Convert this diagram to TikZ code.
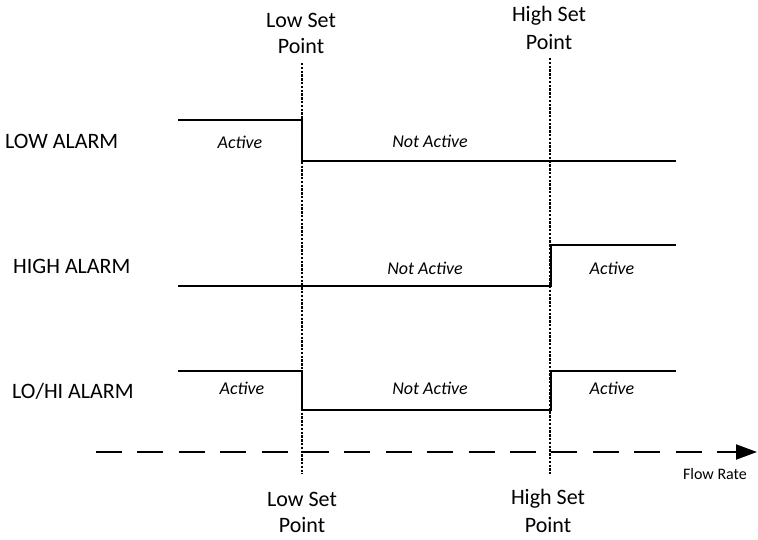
\documentclass[tikz,border=0pt]{standalone}
\usepackage{fontspec}
\setmainfont{Carlito}
\usetikzlibrary{arrows.meta}
\begin{document}
\begin{tikzpicture}[x=1pt,y=-1pt,
  lbl/.style={font=\fontsize{22}{26}\selectfont, inner sep=0pt},
  rowlbl/.style={font=\fontsize{22}{26}\selectfont, inner sep=0pt, anchor=west},
  state/.style={font=\fontsize{18}{22}\selectfont\itshape, inner sep=0pt},
  wave/.style={line width=2pt, line join=miter},
  setline/.style={line width=1.6pt, dash pattern=on 2.4pt off 1.4pt},
  axis/.style={line width=2pt, dash pattern=on 26pt off 15.4pt, -{Triangle[length=21pt,width=15pt]}}]
\useasboundingbox (0,0) rectangle (758,539);
% set point labels
\node[lbl] (lowT1) at (301,20) {Low Set};
\node[lbl] (lowT2) at (301,46) {Point};
\node[lbl] (highT1) at (549,16) {High Set};
\node[lbl] (highT2) at (549,42) {Point};
\node[lbl] (lowB1) at (302,499) {Low Set};
\node[lbl] (lowB2) at (302,525) {Point};
\node[lbl] (highB1) at (548,499) {High Set};
\node[lbl] (highB2) at (548,525) {Point};
% set point lines
\coordinate (lowtop) at (302,63);
\coordinate (lowbot) at (302,474);
\coordinate (hightop) at (550,58);
\coordinate (highbot) at (550,474);
\draw[setline] (lowtop) -- (lowbot);
\draw[setline] (hightop) -- (highbot);
% row labels
\node[rowlbl] (rLow) at (5,141) {LOW ALARM};
\node[rowlbl] (rHigh) at (13,266) {HIGH ALARM};
\node[rowlbl] (rLoHi) at (12,391) {LO/HI ALARM};
% LOW ALARM wave
\coordinate (a0) at (178,120);
\coordinate (a1) at (302,120);
\coordinate (a2) at (302,161);
\coordinate (a3) at (676,161);
\draw[wave] (a0) -- (a1) -- (a2) -- (a3);
\node[state] (sA1) at (240,142) {Active};
\node[state] (sA2) at (430,141) {Not Active};
% HIGH ALARM wave
\coordinate (b0) at (178,286);
\coordinate (b1) at (551,286);
\coordinate (b2) at (551,245);
\coordinate (b3) at (676,245);
\draw[wave] (b0) -- (b1) -- (b2) -- (b3);
\node[state] (sB1) at (425,268) {Not Active};
\node[state] (sB2) at (612,268) {Active};
% LO/HI ALARM wave
\coordinate (c0) at (178,371);
\coordinate (c1) at (302,371);
\coordinate (c2) at (302,410);
\coordinate (c3) at (551,410);
\coordinate (c4) at (551,371);
\coordinate (c5) at (676,371);
\draw[wave] (c0) -- (c1) -- (c2) -- (c3) -- (c4) -- (c5);
\node[state] (sC1) at (242,388) {Active};
\node[state] (sC2) at (430,388) {Not Active};
\node[state] (sC3) at (612,388) {Active};
% axis
\coordinate (ax0) at (96,452);
\coordinate (ax1) at (757,452);
\draw[axis] (ax0) -- (ax1);
\node[font=\fontsize{16}{19}\selectfont, inner sep=0pt] (flow) at (715,474) {Flow Rate};
\end{tikzpicture}
\end{document}
